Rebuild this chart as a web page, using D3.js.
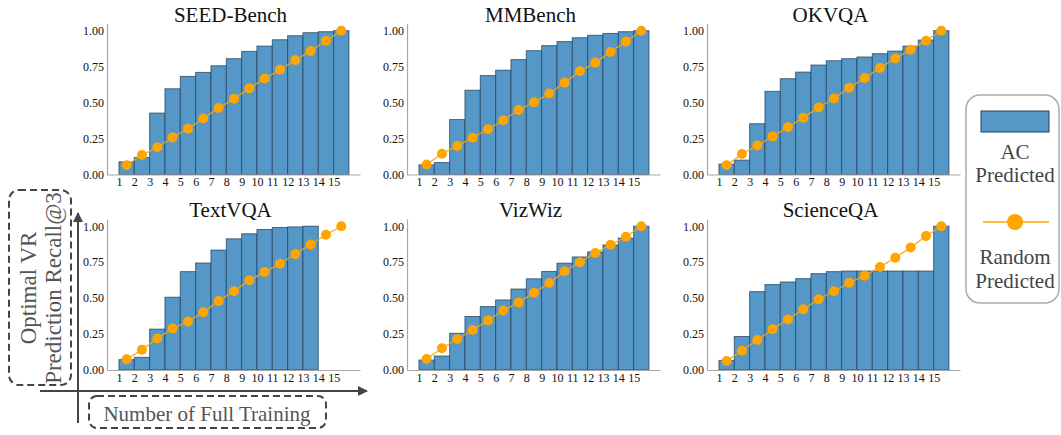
<!DOCTYPE html>
<html>
<head>
<meta charset="utf-8">
<script src="https://cdn.jsdelivr.net/npm/d3@7"></script>
<style>
  body { margin: 0; background: #fff; }
  svg text { font-family: "Liberation Serif", "Times New Roman", serif; }
</style>
</head>
<body>
<svg id="chart" width="1061" height="435"></svg>
<script>
// panel titles, in grid order
var titles = ["SEED-Bench", "MMBench", "OKVQA", "TextVQA", "VizWiz", "ScienceQA"];
var xTicks = [1, 2, 3, 4, 5, 6, 7, 8, 9, 10, 11, 12, 13, 14, 15];
var yTicks = [0, 0.25, 0.5, 0.75, 1.0];

// AC predicted recall (bars) and random predicted recall (dots), per benchmark
var seedAC    = [0.088, 0.118, 0.427, 0.596, 0.682, 0.710, 0.756, 0.805, 0.856, 0.893, 0.937, 0.965, 0.986, 0.993, 1.0];
var seedRand  = [0.065, 0.135, 0.190, 0.258, 0.318, 0.390, 0.462, 0.527, 0.599, 0.668, 0.729, 0.794, 0.858, 0.930, 1.0];
var mmAC      = [0.067, 0.083, 0.382, 0.586, 0.688, 0.725, 0.799, 0.861, 0.896, 0.924, 0.951, 0.968, 0.981, 0.993, 1.0];
var mmRand    = [0.069, 0.144, 0.199, 0.255, 0.315, 0.377, 0.449, 0.502, 0.563, 0.639, 0.718, 0.778, 0.852, 0.924, 1.0];
var okAC      = [0.072, 0.100, 0.353, 0.578, 0.666, 0.712, 0.761, 0.791, 0.805, 0.817, 0.840, 0.858, 0.893, 0.935, 1.0];
var okRand    = [0.065, 0.142, 0.202, 0.265, 0.329, 0.394, 0.466, 0.529, 0.603, 0.671, 0.740, 0.807, 0.868, 0.930, 1.0];
var textAC    = [0.072, 0.088, 0.284, 0.506, 0.684, 0.744, 0.834, 0.912, 0.947, 0.977, 0.991, 0.995, 1.0];
var textRand  = [0.074, 0.141, 0.219, 0.289, 0.337, 0.402, 0.480, 0.547, 0.624, 0.681, 0.739, 0.806, 0.873, 0.940, 1.0];
var vizAC     = [0.069, 0.097, 0.255, 0.372, 0.441, 0.487, 0.563, 0.634, 0.685, 0.743, 0.786, 0.821, 0.869, 0.917, 1.0];
var vizRand   = [0.076, 0.152, 0.216, 0.278, 0.345, 0.414, 0.469, 0.538, 0.605, 0.687, 0.749, 0.814, 0.871, 0.926, 1.0];
var sciAC     = [0.067, 0.233, 0.545, 0.594, 0.612, 0.635, 0.670, 0.684, 0.688, 0.688, 0.688, 0.688, 0.688, 0.688, 1.0];
var sciRand   = [0.062, 0.134, 0.208, 0.284, 0.351, 0.423, 0.492, 0.547, 0.607, 0.656, 0.716, 0.781, 0.852, 0.931, 1.0];

var acSeries = [seedAC, mmAC, okAC, textAC, vizAC, sciAC];
var randSeries = [seedRand, mmRand, okRand, textRand, vizRand, sciRand];

var barFill = "#5597c6", barEdge = "#23425f", dotColor = "#ffa500";
var svg = d3.select("#chart");

var colX = [107, 407, 707];
var rowBase = [174.5, 370];
var plotW = 253, plotH = 151;

titles.forEach(function(name, i) {
	var ax = colX[i % 3], base = rowBase[Math.floor(i / 3)];
	var x = d3.scaleLinear().domain([0.22, 16.72]).range([ax, ax + plotW]);
	var y = d3.scaleLinear().domain([0, 1.05]).range([base, base - plotH]);
	var g = svg.append("g");

	var ac = acSeries[i].map(function(v, k) { return {k: k + 1, v: v}; });
	g.selectAll("rect.bar").data(ac).enter().append("rect")
		.attr("class", "bar")
		.attr("x", function(d) { return x(d.k); })
		.attr("y", function(d) { return y(d.v); })
		.attr("width", function(d) { return x(d.k + 1) - x(d.k); })
		.attr("height", function(d) { return y(0) - y(d.v); })
		.attr("fill", barFill)
		.attr("stroke", barEdge)
		.attr("stroke-opacity", 0.75)
		.attr("stroke-width", 1);

	var rnd = randSeries[i].map(function(v, k) { return {k: k + 1.5, v: v}; });
	var line = d3.line().x(function(d) { return x(d.k); }).y(function(d) { return y(d.v); });
	g.append("path").datum(rnd).attr("d", line)
		.attr("fill", "none").attr("stroke", dotColor).attr("stroke-width", 1.2);
	g.selectAll("circle").data(rnd).enter().append("circle")
		.attr("cx", function(d) { return x(d.k); })
		.attr("cy", function(d) { return y(d.v); })
		.attr("r", 5)
		.attr("fill", dotColor);

	var yAxis = g.append("g").attr("transform", "translate(" + ax + ",0)")
		.call(d3.axisLeft(y).tickValues(yTicks).tickSize(0).tickPadding(3).tickFormat(d3.format(".2f")));
	var xAxis = g.append("g").attr("transform", "translate(0," + base + ")")
		.call(d3.axisBottom(x).tickValues(xTicks).tickSize(0).tickPadding(3).tickFormat(d3.format("d")));
	[yAxis, xAxis].forEach(function(a) {
		a.select(".domain").attr("stroke", "#a8a8a8").attr("stroke-width", 1.2);
		a.selectAll("text").attr("font-family", "Liberation Serif").attr("font-size", 12).attr("fill", "#111");
	});

	g.append("text")
		.attr("x", ax + plotW / 2 - 3)
		.attr("y", base - plotH - 2)
		.attr("text-anchor", "middle")
		.attr("font-size", 21)
		.attr("fill", "#111")
		.text(name);
});

// overall axis arrows
var defs = svg.append("defs");
defs.append("marker").attr("id", "arrow").attr("viewBox", "0 0 10 10")
	.attr("refX", 9).attr("refY", 5).attr("markerWidth", 5).attr("markerHeight", 5)
	.attr("orient", "auto")
	.append("path").attr("d", "M0,0 L10,5 L0,10 z").attr("fill", "#444");
svg.append("line").attr("x1", 78).attr("y1", 423).attr("x2", 78).attr("y2", 213)
	.attr("stroke", "#444").attr("stroke-width", 2).attr("marker-end", "url(#arrow)");
svg.append("line").attr("x1", 40).attr("y1", 391).attr("x2", 367).attr("y2", 391)
	.attr("stroke", "#444").attr("stroke-width", 2).attr("marker-end", "url(#arrow)");

// dashed label boxes
svg.append("rect").attr("x", 9).attr("y", 190).attr("width", 62).attr("height", 195)
	.attr("rx", 10).attr("fill", "none").attr("stroke", "#444").attr("stroke-width", 2)
	.attr("stroke-dasharray", "7,4");
svg.append("rect").attr("x", 89).attr("y", 396).attr("width", 237).attr("height", 32)
	.attr("rx", 8).attr("fill", "none").attr("stroke", "#444").attr("stroke-width", 2)
	.attr("stroke-dasharray", "7,4");

var yl = svg.append("text").attr("transform", "translate(36,288) rotate(-90)")
	.attr("text-anchor", "middle").attr("font-size", 23).attr("fill", "#555");
yl.append("tspan").attr("x", 0).attr("dy", 0).text("Optimal VR");
yl.append("tspan").attr("x", 0).attr("dy", 25).text("Prediction Recall@3");

svg.append("text").attr("x", 207).attr("y", 421).attr("text-anchor", "middle")
	.attr("font-size", 21).attr("fill", "#555").text("Number of Full Training");

// legend
var lg = svg.append("g");
lg.append("rect").attr("x", 966).attr("y", 95).attr("width", 93).attr("height", 208)
	.attr("rx", 14).attr("fill", "#fff").attr("stroke", "#aaa").attr("stroke-width", 1.5);
lg.append("rect").attr("x", 981).attr("y", 111).attr("width", 68).attr("height", 21)
	.attr("fill", barFill).attr("stroke", barEdge).attr("stroke-width", 1);
var lt = [["AC", 159], ["Predicted", 182], ["Random", 264], ["Predicted", 288]];
lg.selectAll("text.lt").data(lt).enter().append("text").attr("class", "lt")
	.attr("x", 1015).attr("y", function(d) { return d[1]; })
	.attr("text-anchor", "middle").attr("font-size", 21).attr("fill", "#444")
	.text(function(d) { return d[0]; });
lg.append("line").attr("x1", 983).attr("x2", 1049).attr("y1", 222).attr("y2", 222)
	.attr("stroke", dotColor).attr("stroke-width", 1.5);
lg.append("circle").attr("cx", 1015).attr("cy", 222).attr("r", 8).attr("fill", dotColor);
</script>
</body>
</html>
